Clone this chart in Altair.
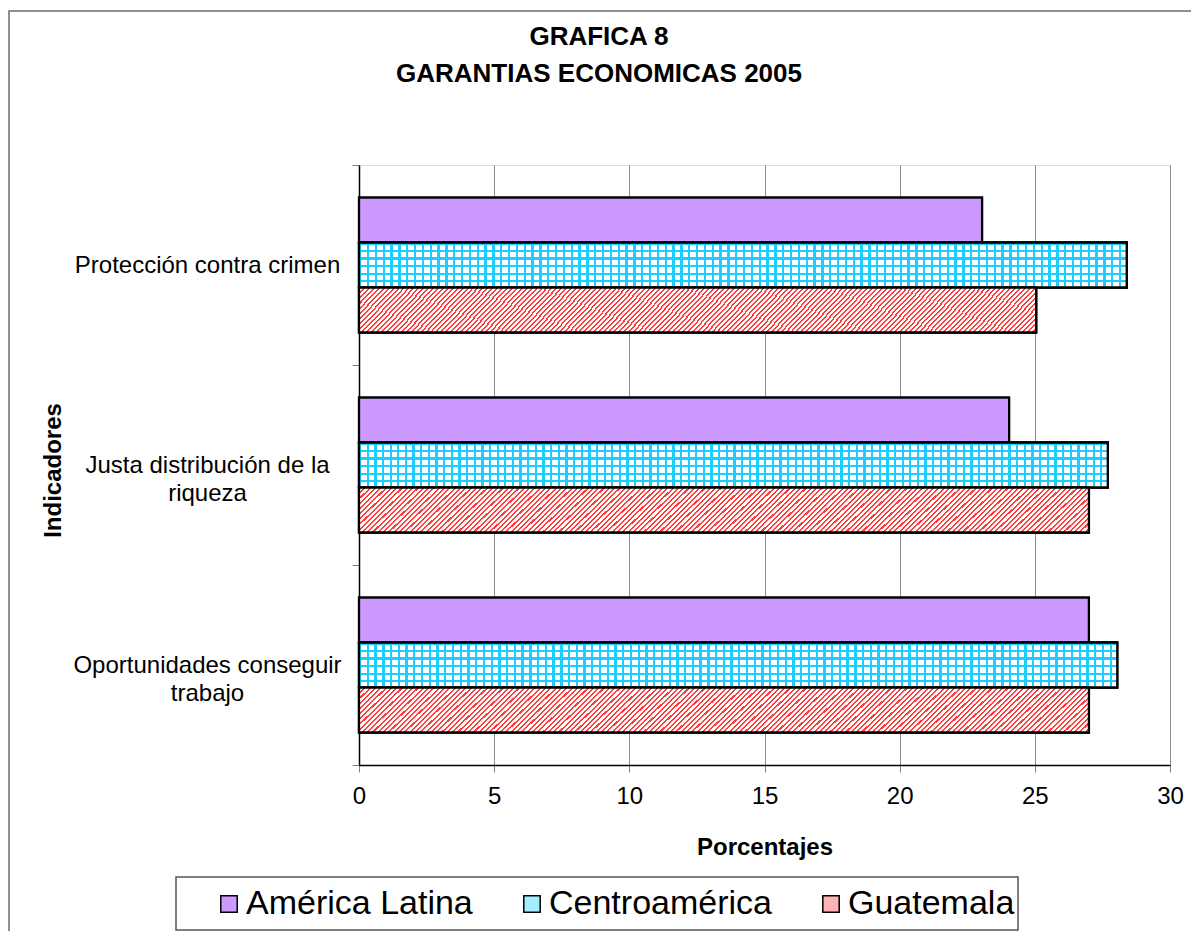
import altair as alt
import pandas as pd

# ---------------- data ----------------
categories = [
    "Protección contra crimen",
    "Justa distribución de la\nriqueza",
    "Oportunidades conseguir\ntrabajo",
]
series = ["América Latina", "Centroamérica", "Guatemala"]
america_latina = [23.05, 24.05, 27.0]
centroamerica = [28.4, 27.7, 28.05]
guatemala = [25.05, 27.0, 27.0]
x_ticks = [0, 5, 10, 15, 20, 25, 30]
title_lines = ["GRAFICA 8", "GARANTIAS ECONOMICAS 2005"]

rows = []
for s, vals in zip(series, [america_latina, centroamerica, guatemala]):
    for c, v in zip(categories, vals):
        rows.append({"indicador": c, "serie": s, "valor": v})
df = pd.DataFrame(rows)

FONT = "Liberation Sans"
W, H = 811, 600


# ---------------- pattern fills (stripe gradients) ----------------
def stripe_stops(c_on, c_off, n, frac):
    stops = []
    for i in range(n):
        a = i / n
        b = (i + frac) / n
        c = (i + 1) / n
        stops += [
            {"offset": round(a, 5), "color": c_on},
            {"offset": round(b, 5), "color": c_on},
            {"offset": round(b, 5), "color": c_off},
            {"offset": round(min(c, 1.0), 5), "color": c_off},
        ]
    return stops


CYAN = "#1ccdff"
grad_vert = {"gradient": "linear", "x1": 0, "y1": 0, "x2": 1, "y2": 0,
             "stops": stripe_stops(CYAN, "#ffffff", 98, 0.3)}
grad_horz = {"gradient": "linear", "x1": 0, "y1": 0, "x2": 0, "y2": 1,
             "stops": stripe_stops(CYAN, "rgba(28,205,255,0)", 6, 0.3)}
r = 0.0632
k = (1 + r) / (1 + r * r)
grad_diag = {"gradient": "linear", "x1": 0, "y1": 0, "x2": k, "y2": k * r,
             "stops": stripe_stops("#ff3c3c", "#ffffff", 146, 0.4)}

# ---------------- encodings ----------------
y_axis = alt.Axis(
    title="Indicadores", titleFont=FONT, titleFontSize=24, titleFontWeight="bold",
    titleColor="black", titleX=-299, titleY=305, titleAngle=-90,
    titleAlign="center", titleBaseline="alphabetic",
    labelFont=FONT, labelFontSize=24, labelColor="black", labelAlign="center",
    labelBaseline="middle", labelPadding=145, labelLineHeight=28, labelLimit=500,
    labelExpr="split(datum.label, '\\n')",
    tickBand="extent", tickColor="#808080", tickSize=7, tickWidth=1,
    domainColor="black", domainWidth=1.5, grid=False,
)
x_axis = alt.Axis(
    values=x_ticks, title="Porcentajes", titleFont=FONT, titleFontSize=24,
    titleFontWeight="bold", titleColor="black", titleX=405.5, titleY=82,
    titleBaseline="middle",
    labelFont=FONT, labelFontSize=24, labelColor="black", labelPadding=12,
    labelFlush=False, tickColor="#808080", tickSize=7, tickWidth=1,
    domainColor="black", domainWidth=1.5, grid=True, gridColor="#8c8c8c", gridWidth=1,
)

y_enc = alt.Y("indicador:N", sort=categories,
              scale=alt.Scale(domain=categories, paddingInner=0, paddingOuter=0),
              axis=y_axis)
yoff_enc = alt.YOffset("serie:N", sort=series,
                       scale=alt.Scale(domain=series, paddingInner=0, paddingOuter=0.7222))
x_enc = alt.X("valor:Q", scale=alt.Scale(domain=[0, 30], nice=False), axis=x_axis)

base = alt.Chart(df)

bars = base.mark_bar(stroke="black", strokeWidth=2.3).encode(
    y=y_enc, yOffset=yoff_enc, x=x_enc,
    color=alt.Color(
        "serie:N",
        scale=alt.Scale(domain=series, range=["#cc99ff", "#a6ecff", "#ffb4b4"]),
        legend=alt.Legend(
            title=None, orient="none", legendX=-147, legendY=722,
            direction="horizontal", symbolType="square", symbolSize=270,
            symbolStrokeColor="black", symbolStrokeWidth=1.5, symbolOpacity=1,
            labelFont=FONT, labelFontSize=34, labelColor="black", labelOffset=0,
            labelLimit=500, columnPadding=42, padding=0,
        ),
    ),
)

ca_v = base.transform_filter(alt.datum.serie == series[1]).mark_bar(
    fill=grad_vert, strokeWidth=0
).encode(y=y_enc, yOffset=yoff_enc, x=x_enc)

ca_h = base.transform_filter(alt.datum.serie == series[1]).mark_bar(
    fill=grad_horz, stroke="black", strokeWidth=2.3
).encode(y=y_enc, yOffset=yoff_enc, x=x_enc)

gt = base.transform_filter(alt.datum.serie == series[2]).mark_bar(
    fill=grad_diag, stroke="black", strokeWidth=2.3
).encode(y=y_enc, yOffset=yoff_enc, x=x_enc)

one = alt.Chart(pd.DataFrame({"k": [0]}))

frame = one.mark_rect(filled=False, stroke="#6e6e6e", strokeWidth=1.5).encode(
    x=alt.value(-350), x2=alt.value(1000), y=alt.value(-154), y2=alt.value(1000)
)
legend_box = one.mark_rect(filled=False, stroke="#555555", strokeWidth=1.5).encode(
    x=alt.value(-183), x2=alt.value(659), y=alt.value(712), y2=alt.value(765)
)
title = one.mark_text(
    font=FONT, fontSize=26, fontWeight="bold", align="center", baseline="middle",
    lineHeight=37, color="black"
).encode(x=alt.value(240), y=alt.value(-128.5), text=alt.value(title_lines))

chart = alt.layer(frame, bars, ca_v, ca_h, gt, legend_box, title).properties(
    width=W, height=H,
    padding={"left": 351, "top": 157, "right": 21, "bottom": 166},
    autosize=alt.AutoSizeParams(type="none"),
    background="white",
).configure_view(stroke="#8c8c8c", strokeWidth=2).configure(font=FONT)

chart.save("out.html", embed_options={"renderer": "svg", "actions": False})
